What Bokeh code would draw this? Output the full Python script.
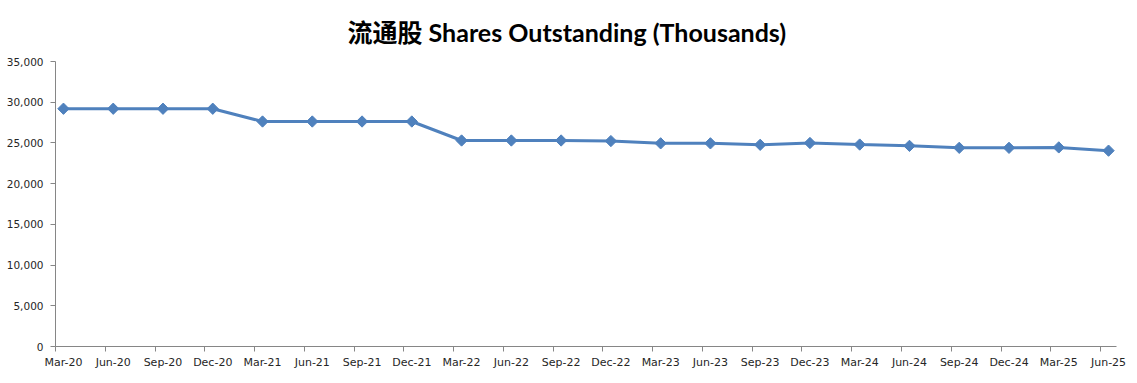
import math
from bokeh.plotting import figure
from bokeh.models import Range1d, FixedTicker, NumeralTickFormatter, ColumnDataSource, Title
from bokeh.embed import file_html
from bokeh.resources import INLINE

quarters = ["Mar-20", "Jun-20", "Sep-20", "Dec-20", "Mar-21", "Jun-21", "Sep-21", "Dec-21",
            "Mar-22", "Jun-22", "Sep-22", "Dec-22", "Mar-23", "Jun-23", "Sep-23", "Dec-23",
            "Mar-24", "Jun-24", "Sep-24", "Dec-24", "Mar-25", "Jun-25"]
shares = [29200, 29200, 29200, 29200, 27630, 27630, 27630, 27630,
          25300, 25300, 25300, 25230, 24950, 24950, 24770, 24990,
          24800, 24640, 24400, 24400, 24450, 24050]
y_ticks = [0, 5000, 10000, 15000, 20000, 25000, 30000, 35000]
title_text = "流通股 Shares Outstanding (Thousands)"

idx = list(range(len(quarters)))
shift = 0.16
src = ColumnDataSource(dict(x=idx, y=shares))

p = figure(width=1137, height=383, output_backend="svg", toolbar_location=None,
           x_range=Range1d(-shift, len(quarters) - 1 + shift), y_range=Range1d(0, 35000),
           min_border_left=55, min_border_right=21, min_border_top=61, min_border_bottom=37)
p.title = Title(text=title_text, align="left", offset=292,
                text_font="Lato, 'Noto Sans CJK SC'", text_font_size="25px",
                text_font_style="bold", text_color="#000000", standoff=29)
p.outline_line_color = None
p.grid.visible = False
p.background_fill_color = "white"
p.border_fill_color = "white"

axis_col = "#868686"
lab_col = "#262626"

p.yaxis.ticker = FixedTicker(ticks=y_ticks)
p.yaxis.formatter = NumeralTickFormatter(format="0,0")
p.yaxis.axis_line_color = axis_col
p.yaxis.major_tick_line_color = axis_col
p.yaxis.major_tick_out = 5
p.yaxis.major_tick_in = 0
p.yaxis.minor_tick_line_color = None
p.yaxis.major_label_text_font = "DejaVu Sans"
p.yaxis.major_label_text_font_size = "10.5px"
p.yaxis.major_label_text_color = lab_col
p.yaxis.major_label_standoff = 7

p.xaxis.ticker = FixedTicker(ticks=idx, minor_ticks=[i - shift for i in idx])
p.xaxis.major_label_overrides = {i: q for i, q in zip(idx, quarters)}
p.xaxis.axis_line_color = axis_col
p.xaxis.major_tick_line_color = None
p.xaxis.major_tick_out = 5
p.xaxis.major_tick_in = 0
p.xaxis.minor_tick_line_color = axis_col
p.xaxis.minor_tick_out = 5
p.xaxis.minor_tick_in = 0
p.xaxis.major_label_text_font = "DejaVu Sans"
p.xaxis.major_label_text_font_size = "11px"
p.xaxis.major_label_text_color = lab_col
p.xaxis.major_label_standoff = 4

color = "#4F81BD"
p.line("x", "y", source=src, line_color=color, line_width=3)
p.scatter("x", "y", source=src, marker="square", angle=math.pi / 4, size=8,
          fill_color=color, line_color=color)

open("out.html", "w").write(file_html(p, INLINE))
